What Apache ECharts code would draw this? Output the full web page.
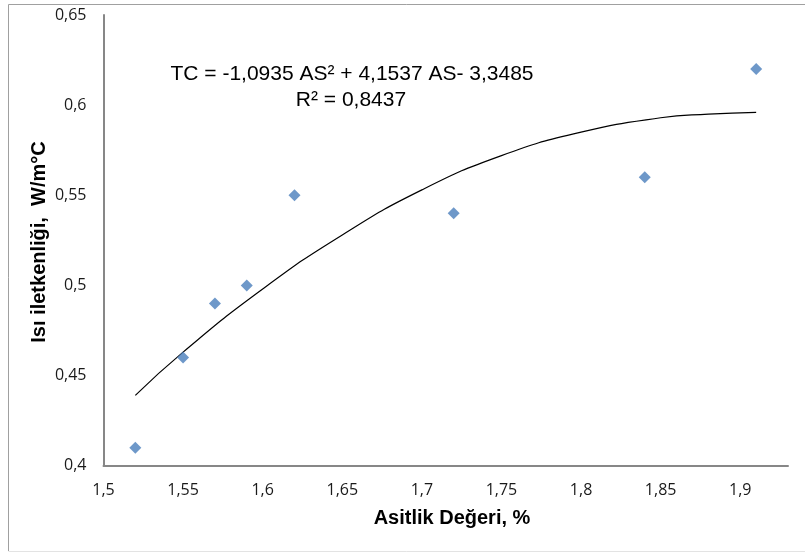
<!DOCTYPE html>
<html>
<head>
<meta charset="utf-8">
<script src="https://cdn.jsdelivr.net/npm/echarts@6/dist/echarts.min.js"></script>
<style>
html,body{margin:0;padding:0;background:#fff;}
#c{width:805px;height:553px;}
</style>
</head>
<body>
<div id="c"></div>
<script>
// Measured points
const asitlik = [1.52, 1.55, 1.57, 1.59, 1.62, 1.72, 1.84, 1.91];
const isiIletkenligi = [0.41, 0.46, 0.49, 0.50, 0.55, 0.54, 0.56, 0.62];
// Trend line
const trendX = [1.52, 1.55, 1.60, 1.65, 1.70, 1.75, 1.80, 1.85, 1.88, 1.91];
const trendY = [0.439, 0.463, 0.498, 0.528, 0.553, 0.572, 0.585, 0.593, 0.595, 0.596];
// Axis settings
const xTicks = {min: 1.5, max: 1.93, interval: 0.05};
const yTicks = {min: 0.4, max: 0.65, interval: 0.05};
const equationText = 'TC = -1,0935 AS² + 4,1537 AS- 3,3485';
const r2Text = 'R² = 0,8437';
const xTitle = 'Asitlik Değeri, %';
const yTitle = 'Isı iletkenliği,  W/m°C';

const fmt = v => String(+v.toFixed(4)).replace('.', ',');
const chart = echarts.init(document.getElementById('c'), null, {renderer: 'canvas'});
const labelStyle = {fontFamily: 'Open Sans', fontSize: 16, color: '#1a1a1a'};
const axisLineStyle = {lineStyle: {color: '#878787', width: 2}};
chart.setOption({
  animation: false,
  backgroundColor: '#fff',
  grid: {left: 103.5, right: 17, top: 15, bottom: 87.3, containLabel: false},
  xAxis: {
    type: 'value', min: xTicks.min, max: xTicks.max, interval: xTicks.interval,
    axisLine: Object.assign({show: true, onZero: false}, axisLineStyle),
    axisTick: {show: false}, splitLine: {show: false},
    axisLabel: Object.assign({margin: 17, formatter: fmt, showMaxLabel: false, showMinLabel: true}, labelStyle)
  },
  yAxis: {
    type: 'value', min: yTicks.min, max: yTicks.max, interval: yTicks.interval,
    axisLine: Object.assign({show: true, onZero: false}, axisLineStyle),
    axisTick: {show: false}, splitLine: {show: false},
    axisLabel: Object.assign({margin: 17, formatter: fmt}, labelStyle)
  },
  series: [
    {
      type: 'line', data: trendX.map((x, i) => [x, trendY[i]]),
      showSymbol: false, smooth: true, z: 2,
      lineStyle: {color: '#000', width: 1.2}
    },
    {
      type: 'scatter', data: asitlik.map((x, i) => [x, isiIletkenligi[i]]),
      symbol: 'diamond', symbolSize: [12, 12], z: 3,
      itemStyle: {color: '#4A7EBB'}
    }
  ],
  graphic: [
    {type: 'line', shape: {x1: 8.5, y1: 4.5, x2: 805, y2: 4.5}, style: {stroke: '#a0a0a0', lineWidth: 1}},
    {type: 'line', shape: {x1: 8.5, y1: 4.5, x2: 8.5, y2: 551}, style: {stroke: '#a0a0a0', lineWidth: 1}},
    {type: 'line', shape: {x1: 8.5, y1: 551.5, x2: 805, y2: 551.5}, style: {stroke: '#e3e3e3', lineWidth: 1}},
    {type: 'text', x: 352, y: 74, style: {text: equationText, font: '21px "Liberation Sans", Arial', fill: '#000', textAlign: 'center', textVerticalAlign: 'middle'}},
    {type: 'text', x: 351, y: 100, style: {text: r2Text, font: '21px "Liberation Sans", Arial', fill: '#000', textAlign: 'center', textVerticalAlign: 'middle'}},
    {type: 'text', x: 452, y: 518, style: {text: xTitle, font: 'bold 20px "Liberation Sans", Arial', fill: '#000', textAlign: 'center', textVerticalAlign: 'middle'}},
    {type: 'text', x: 39, y: 242, rotation: Math.PI / 2, style: {text: yTitle, font: 'bold 20px "Liberation Sans", Arial', fill: '#000', textAlign: 'center', textVerticalAlign: 'middle'}}
  ]
});
</script>
</body>
</html>
